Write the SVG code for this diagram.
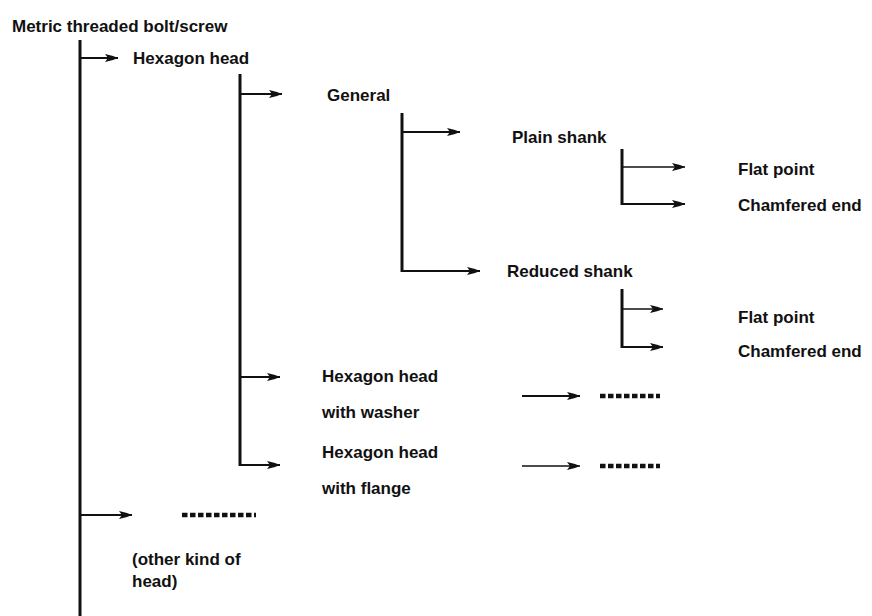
<svg xmlns="http://www.w3.org/2000/svg" width="872" height="616" viewBox="0 0 872 616">
<style>
  text { font-family: "Liberation Sans", Arial, sans-serif; font-weight: bold; font-size: 17px; fill: #111; }
  .v { stroke: #111; stroke-width: 3; fill: none; }
  .h { stroke: #111; stroke-width: 2.2; fill: none; marker-end: url(#ah); }
  .ht { stroke: #111; stroke-width: 1.5; fill: none; marker-end: url(#ah); }
  .dots { stroke: #111; stroke-width: 4.5; stroke-dasharray: 5.5 2.5; fill: none; }
</style>
<defs>
  <marker id="ah" markerUnits="userSpaceOnUse" markerWidth="14" markerHeight="10" refX="13" refY="5" orient="auto">
    <path d="M0,1 L8,3 L13,5 L8,7 L0,9 L3,5 Z" fill="#111"/>
  </marker>
</defs>
<rect width="872" height="616" fill="#fff"/>
<g id="connectors">
  <line class="v" x1="80" y1="40" x2="80" y2="616"/>
  <line class="v" x1="240" y1="74" x2="240" y2="466"/>
  <line class="v" x1="402" y1="113" x2="402" y2="272"/>
  <line class="v" x1="622" y1="149" x2="622" y2="205"/>
  <line class="v" x1="622" y1="289" x2="622" y2="348"/>
  <line class="h" x1="80" y1="58" x2="118" y2="58"/>
  <line class="h" x1="240" y1="94" x2="282" y2="94"/>
  <line class="h" x1="402" y1="132" x2="460" y2="132"/>
  <line class="h" x1="402" y1="271" x2="480" y2="271"/>
  <line class="ht" x1="622" y1="167" x2="685" y2="167"/>
  <line class="h" x1="622" y1="204" x2="685" y2="204"/>
  <line class="ht" x1="622" y1="309" x2="663" y2="309"/>
  <line class="h" x1="622" y1="347" x2="663" y2="347"/>
  <line class="h" x1="240" y1="377" x2="280" y2="377"/>
  <line class="h" x1="240" y1="465" x2="280" y2="465"/>
  <line class="h" x1="522" y1="396" x2="580" y2="396"/>
  <line class="ht" x1="522" y1="466" x2="580" y2="466"/>
  <line class="h" x1="80" y1="515" x2="132" y2="515"/>
</g>
<g id="root"><text x="12" y="32">Metric threaded bolt/screw</text></g>
<g id="hexagon-head"><text x="133" y="64">Hexagon head</text></g>
<g id="general"><text x="327" y="101">General</text></g>
<g id="plain-shank"><text x="512" y="143">Plain shank</text></g>
<g id="plain-flat-point"><text x="738" y="175">Flat point</text></g>
<g id="plain-chamfered-end"><text x="738" y="211">Chamfered end</text></g>
<g id="reduced-shank"><text x="507" y="277">Reduced shank</text></g>
<g id="reduced-flat-point"><text x="738" y="323">Flat point</text></g>
<g id="reduced-chamfered-end"><text x="738" y="357">Chamfered end</text></g>
<g id="hex-washer"><text x="322" y="382">Hexagon head</text><text x="322" y="418">with washer</text></g>
<g id="hex-flange"><text x="322" y="458">Hexagon head</text><text x="322" y="494">with flange</text></g>
<g id="washer-more"><line class="dots" x1="600" y1="396" x2="660" y2="396"/></g>
<g id="flange-more"><line class="dots" x1="600" y1="466" x2="660" y2="466"/></g>
<g id="other-head"><line class="dots" x1="182" y1="515" x2="256" y2="515"/><text x="132" y="565">(other kind of</text><text x="132" y="587">head)</text></g>
</svg>
